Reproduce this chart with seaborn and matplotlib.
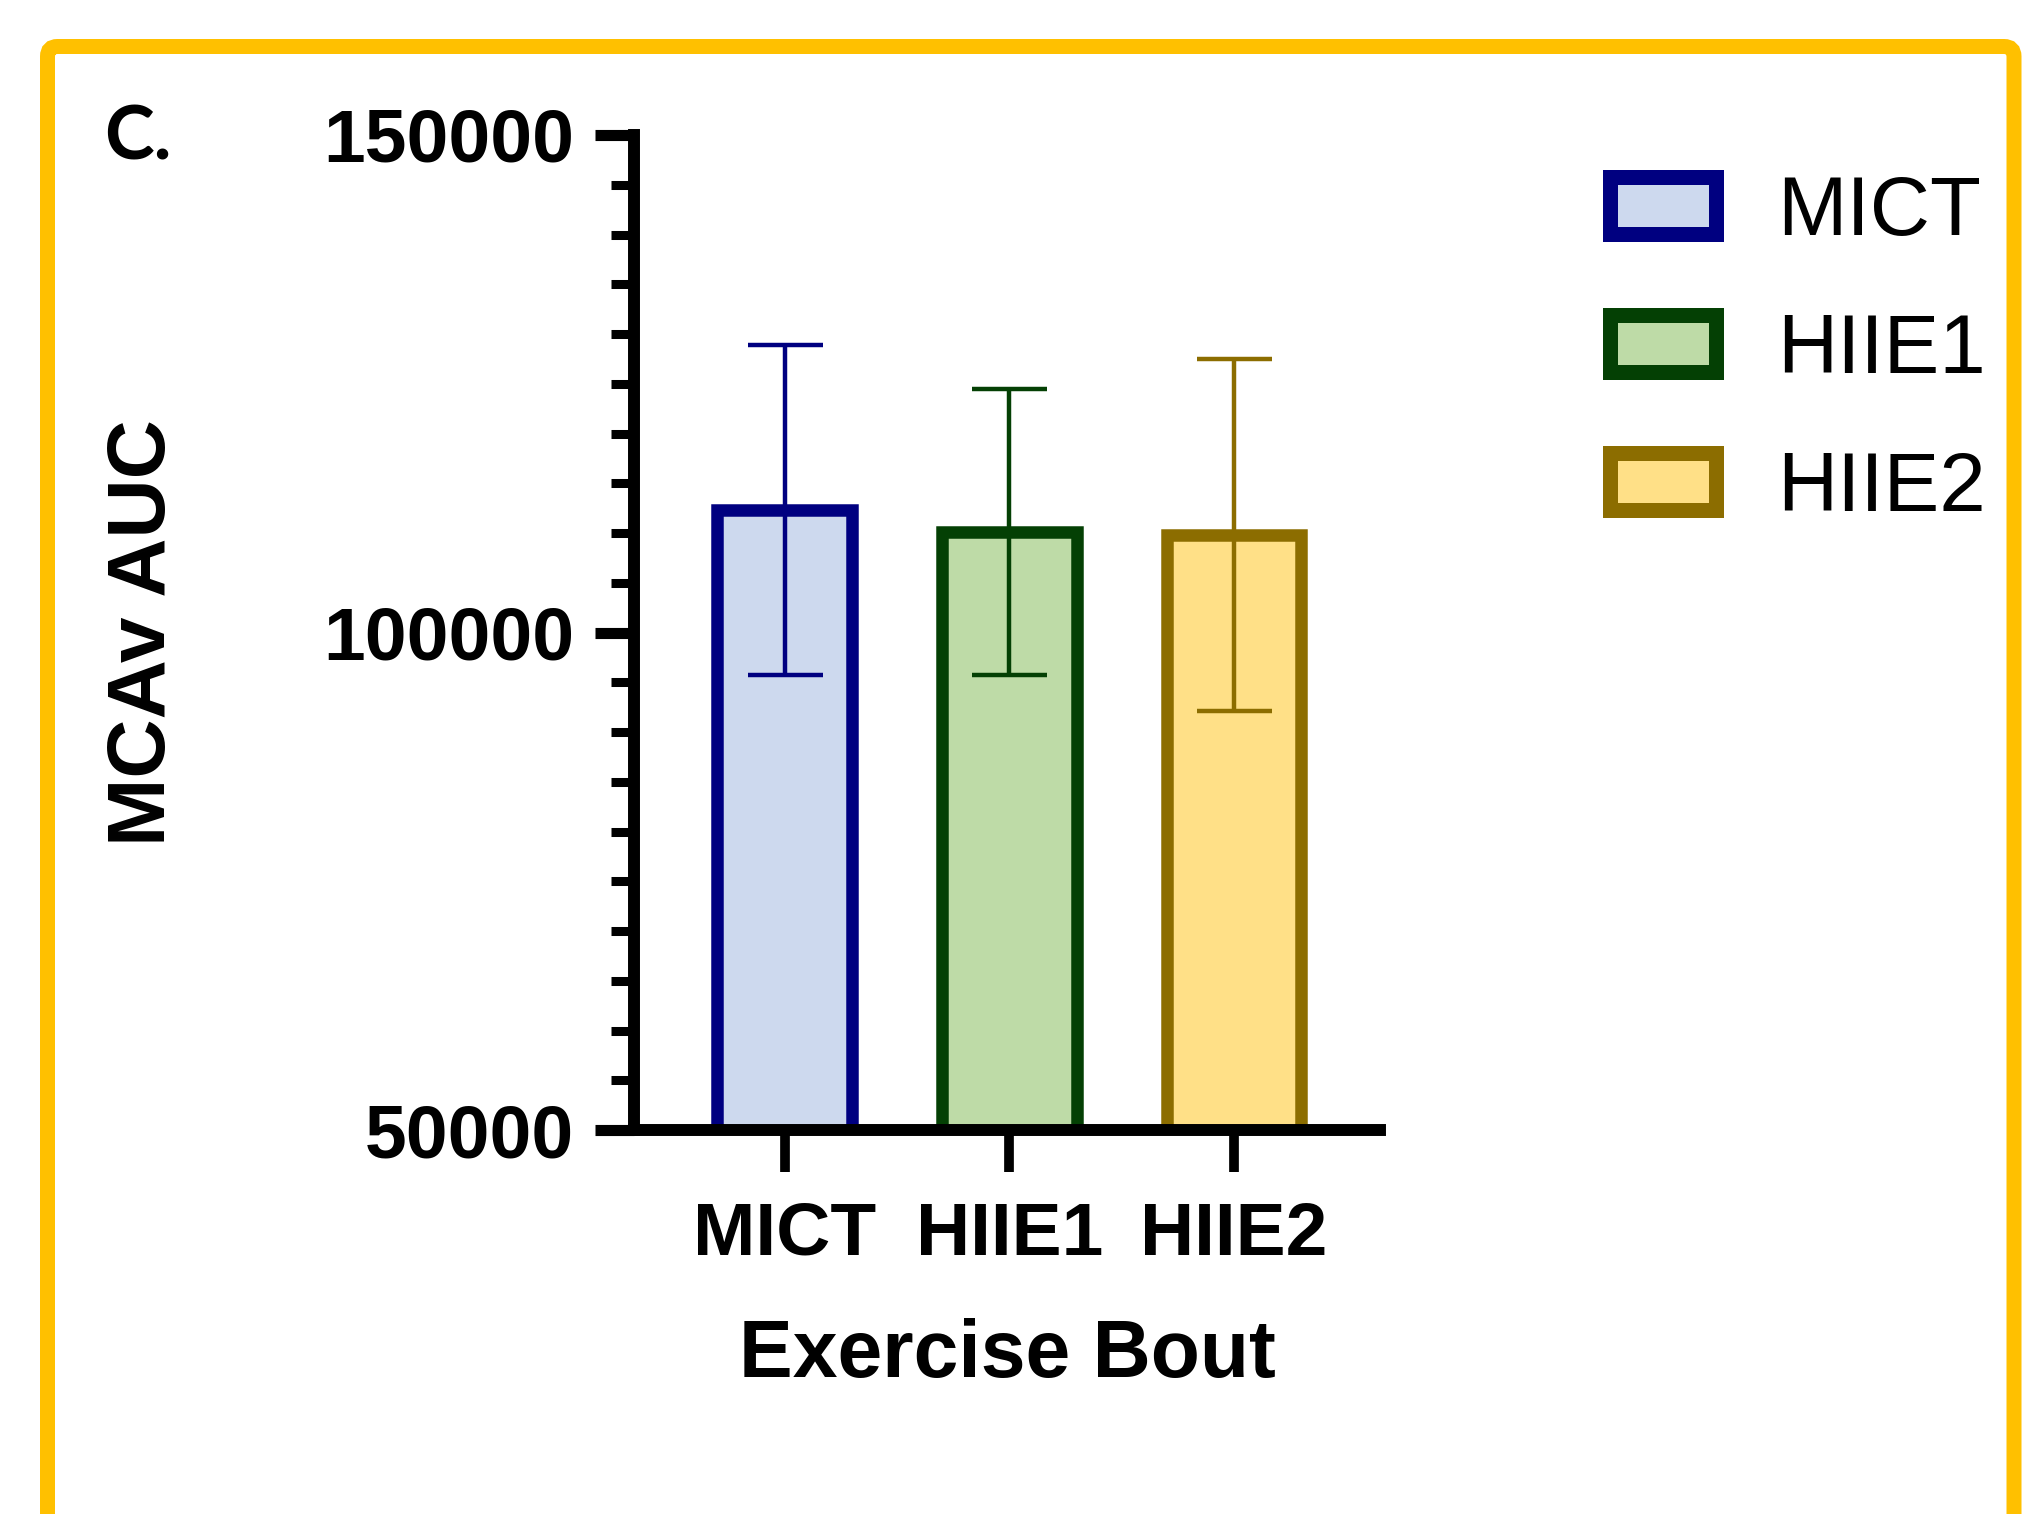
import matplotlib
matplotlib.use("Agg")
import matplotlib.pyplot as plt
import seaborn as sns
from matplotlib.patches import FancyBboxPatch, Patch
from matplotlib.ticker import MultipleLocator

# Mean MCAv area-under-curve per exercise bout, with SD
bouts = ["MICT", "HIIE1", "HIIE2"]
auc_mean = [112300, 110100, 109800]
auc_sd = [16600, 14400, 17700]

fill_colors = ["#cdd9ee", "#bedba7", "#ffe087"]
edge_colors = ["#000080", "#044004", "#8c6d00"]

y_major_ticks = [50000, 100000, 150000]
y_tick_labels = ["50000", "100000", "150000"]

sns.set_theme(style="white")
plt.rcParams["font.family"] = ["Liberation Sans", "DejaVu Sans"]
plt.rcParams["text.color"] = "black"

W, H = 2036, 1514
fig = plt.figure(figsize=(W / 100, H / 100), dpi=100)
fig.patch.set_facecolor("white")

ax_left, ax_right, ax_top, ax_bottom = 634, 1380, 135, 1130
ax = fig.add_axes([ax_left / W, 1 - ax_bottom / H,
                   (ax_right - ax_left) / W, (ax_bottom - ax_top) / H])

sns.barplot(x=bouts, y=auc_mean, hue=bouts, palette=fill_colors,
            saturation=1, width=0.6, errorbar=None, legend=False, ax=ax)
for bar, ec in zip(ax.patches, edge_colors):
    bar.set_edgecolor(ec)
    bar.set_linewidth(9)
    bar.set_joinstyle("miter")

for i, (m, s, ec) in enumerate(zip(auc_mean, auc_sd, edge_colors)):
    ax.errorbar(i, m, yerr=s, fmt="none", ecolor=ec, elinewidth=3.2,
                capsize=27, capthick=3.2, zorder=5)

ax.set_xlim(-0.67, 2.65)
ax.set_ylim(50000, 150000)
ax.set_yticks(y_major_ticks, labels=y_tick_labels)
ax.yaxis.set_minor_locator(MultipleLocator(5000))

for side in ["top", "right"]:
    ax.spines[side].set_visible(False)
for side in ["left", "bottom"]:
    ax.spines[side].set_linewidth(8.6)
    ax.spines[side].set_color("black")

ax.tick_params(axis="y", which="major", left=True, direction="out",
               length=28, width=8, pad=15, labelsize=54, colors="black")
ax.tick_params(axis="y", which="minor", left=True, direction="out",
               length=16.5, width=6.5, colors="black")
ax.tick_params(axis="x", which="major", bottom=True, direction="out",
               length=30, width=7, pad=21, labelsize=54, colors="black")
for lbl in ax.get_xticklabels() + ax.get_yticklabels():
    lbl.set_fontweight("bold")

ax.set_ylabel("MCAv AUC", fontsize=59, fontweight="bold", color="black")
ax.yaxis.set_label_coords(-0.606, 0.5)
ax.set_xlabel("Exercise Bout", fontsize=58, fontweight="bold", color="black")
ax.xaxis.set_label_coords(0.5, -0.189)
ax.xaxis.label.set_va("top")

handles = [Patch(facecolor=fc, edgecolor=ec, linewidth=10.8)
           for fc, ec in zip(fill_colors, edge_colors)]
leg = fig.legend(handles, bouts, loc="upper left",
                 bbox_to_anchor=(1610 / W, 1 - 174 / H), frameon=False,
                 fontsize=60, handlelength=1.27, handleheight=0.67,
                 handletextpad=0.73, labelspacing=0.72, borderpad=0,
                 borderaxespad=0)
for t in leg.get_texts():
    t.set_color("black")

fig.text(104 / W, 1 - 104 / H, "C.", ha="left", va="top", fontsize=54,
         fontweight="bold", color="black", family=["Lato", "DejaVu Sans"])

frame = FancyBboxPatch((0.475, -0.5), 20.14 - 0.475, 14.675 + 0.5,
                       boxstyle="round,pad=0,rounding_size=0.1",
                       transform=fig.dpi_scale_trans, facecolor="none",
                       edgecolor="#FFC000", linewidth=10.8, clip_on=False)
fig.add_artist(frame)

fig.savefig("out.png", dpi=100)
